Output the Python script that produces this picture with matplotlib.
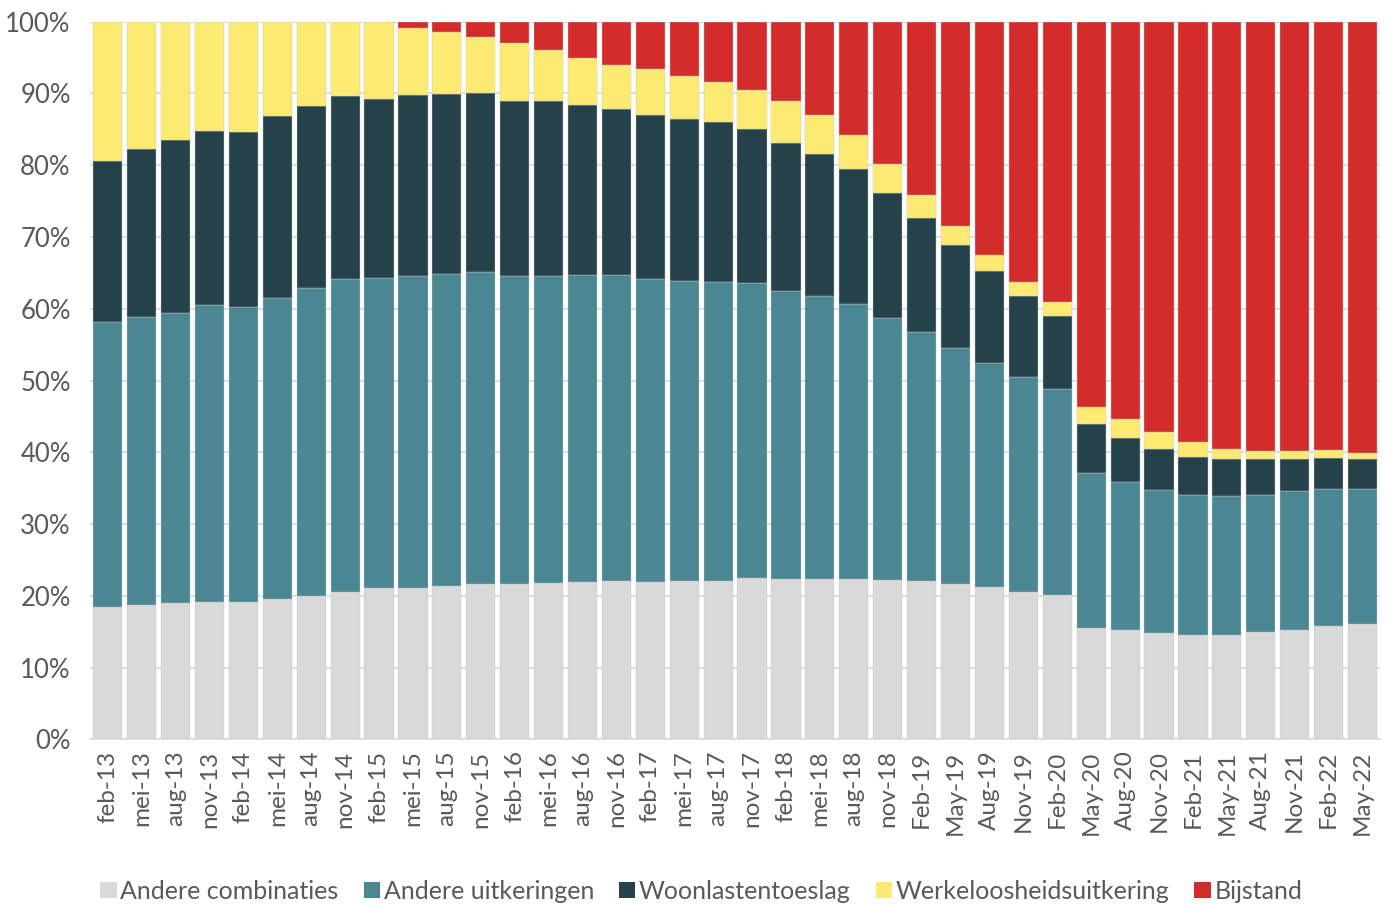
import matplotlib.pyplot as plt
import numpy as np
from matplotlib.ticker import PercentFormatter

# Kwartalen (labels zoals in de bron)
labels = ["feb-13", "mei-13", "aug-13", "nov-13",
          "feb-14", "mei-14", "aug-14", "nov-14",
          "feb-15", "mei-15", "aug-15", "nov-15",
          "feb-16", "mei-16", "aug-16", "nov-16",
          "feb-17", "mei-17", "aug-17", "nov-17",
          "feb-18", "mei-18", "aug-18", "nov-18",
          "Feb-19", "May-19", "Aug-19", "Nov-19",
          "Feb-20", "May-20", "Aug-20", "Nov-20",
          "Feb-21", "May-21", "Aug-21", "Nov-21",
          "Feb-22", "May-22"]

# Aandelen per categorie (%)
andere_combinaties = [18.4, 18.7, 19.0, 19.2, 19.1, 19.5, 20.0, 20.6, 21.1, 21.1,
                      21.4, 21.6, 21.6, 21.8, 21.9, 22.0, 21.9, 22.0, 22.0, 22.5,
                      22.4, 22.4, 22.4, 22.2, 22.0, 21.6, 21.2, 20.5, 20.1, 15.5,
                      15.2, 14.8, 14.6, 14.6, 14.9, 15.3, 15.8, 16.1]
andere_uitkeringen = [39.8, 40.1, 40.4, 41.3, 41.2, 42.0, 42.9, 43.5, 43.2, 43.5,
                      43.5, 43.5, 42.9, 42.8, 42.8, 42.7, 42.2, 41.9, 41.8, 41.1,
                      40.1, 39.4, 38.3, 36.5, 34.7, 32.9, 31.3, 30.0, 28.7, 21.6,
                      20.6, 20.0, 19.4, 19.3, 19.2, 19.3, 19.1, 18.8]
woonlastentoeslag = [22.4, 23.4, 24.1, 24.3, 24.4, 25.4, 25.4, 25.5, 25.0, 25.2,
                     25.0, 24.9, 24.4, 24.3, 23.7, 23.2, 22.9, 22.6, 22.2, 21.5,
                     20.6, 19.7, 18.8, 17.5, 15.9, 14.4, 12.8, 11.3, 10.2, 6.8,
                     6.2, 5.6, 5.4, 5.1, 4.9, 4.5, 4.3, 4.1]
werkloosheid = [19.4, 17.8, 16.5, 15.2, 15.3, 13.1, 11.7, 10.4, 10.7, 9.3,
                8.6, 7.9, 8.1, 7.1, 6.5, 6.1, 6.4, 6.0, 5.6, 5.4,
                5.9, 5.5, 4.7, 4.0, 3.3, 2.6, 2.2, 2.0, 2.0, 2.4,
                2.7, 2.4, 2.0, 1.4, 1.2, 1.1, 1.1, 0.9]
bijstand = [0.0, 0.0, 0.0, 0.0, 0.0, 0.0, 0.0, 0.0, 0.0, 0.9,
            1.5, 2.1, 3.0, 4.0, 5.1, 6.0, 6.6, 7.5, 8.4, 9.5,
            11.0, 13.0, 15.8, 19.8, 24.1, 28.5, 32.5, 36.2, 39.0, 53.7,
            55.3, 57.2, 58.6, 59.6, 59.8, 59.8, 59.7, 60.1]

series = [
    ("Andere combinaties", andere_combinaties, "#d9d9d9"),
    ("Andere uitkeringen", andere_uitkeringen, "#4a8793"),
    ("Woonlastentoeslag", woonlastentoeslag, "#25424a"),
    ("Werkeloosheidsuitkering", werkloosheid, "#fdea72"),
    ("Bijstand", bijstand, "#d42c2a"),
]

plt.rcParams['font.family'] = ['Lato', 'DejaVu Sans']
text_color = "#595959"

fig = plt.figure(figsize=(13.86, 9.05), dpi=100)
ax = fig.add_axes([0.065, 0.183, 0.931, 0.793])

x = np.arange(len(labels))
bottom = np.zeros(len(labels))
for name, vals, color in series:
    vals = np.array(vals)
    ax.bar(x, vals, bottom=bottom, width=0.86, color=color, label=name,
           edgecolor="#c8c8c8", linewidth=0.3, zorder=3)
    bottom += vals

ax.set_ylim(0, 100)
ax.set_xlim(-0.52, len(labels) - 0.47)
ax.set_yticks(np.arange(0, 101, 10))
ax.yaxis.set_major_formatter(PercentFormatter(decimals=0))
ax.set_xticks(x)
ax.set_xticklabels(labels, rotation=90)
ax.tick_params(axis="x", length=0, labelsize=17.5, colors=text_color, pad=8)
ax.tick_params(axis="y", length=0, labelsize=18.5, colors=text_color, pad=14)

ax.grid(axis="y", color="#d9d9d9", linewidth=1.2, zorder=0)
ax.set_axisbelow(True)
for side in ["left", "right", "top"]:
    ax.spines[side].set_visible(False)
ax.spines["bottom"].set_color("#d9d9d9")
ax.spines["bottom"].set_linewidth(1.2)

handles, names = ax.get_legend_handles_labels()
leg = fig.legend(handles, names, loc="center", bbox_to_anchor=(0.506, 0.015),
                 ncol=5, frameon=False, fontsize=18, handlelength=0.65,
                 handleheight=0.65, handletextpad=0.15, columnspacing=1.0)
for t in leg.get_texts():
    t.set_color(text_color)
for h in leg.legend_handles:
    h.set_linewidth(0)

fig.savefig("out.png", dpi=100)
